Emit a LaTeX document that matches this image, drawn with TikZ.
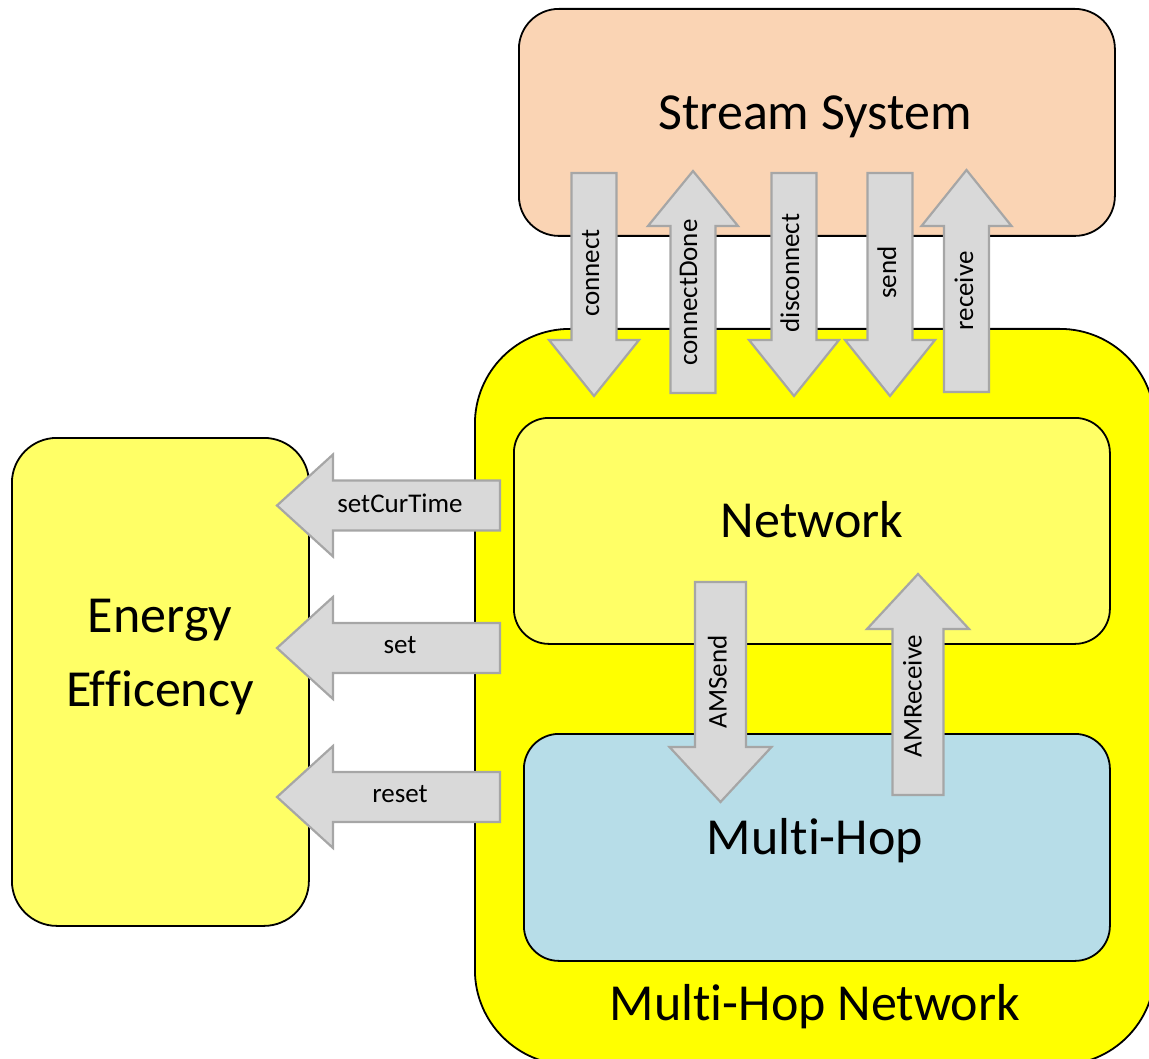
\documentclass[tikz,border=0pt]{standalone}
\usepackage{fontspec}
\setmainfont{Carlito}[Ligatures=NoCommon]
\usetikzlibrary{positioning,calc}

\definecolor{peach}{HTML}{FAD4B4}
\definecolor{brightyellow}{HTML}{FFFF00}
\definecolor{paleyellow}{HTML}{FFFF66}
\definecolor{paleblue}{HTML}{B7DDE8}
\definecolor{arrowfill}{HTML}{D9D9D9}
\definecolor{arrowline}{HTML}{A6A6A6}

% vertical block arrow: x, tail y, head base y, tip y, half shaft, half head
\newcommand{\vblock}[6]{%
  \draw[blk] (#1-#5,#2) -- (#1+#5,#2) -- (#1+#5,#3) -- (#1+#6,#3) -- (#1,#4)
    -- (#1-#6,#3) -- (#1-#5,#3) -- cycle;}
% horizontal block arrow: y, tail x, head base x, tip x, half shaft, half head
\newcommand{\hblock}[6]{%
  \draw[blk] (#2,#1-#5) -- (#2,#1+#5) -- (#3,#1+#5) -- (#3,#1+#6) -- (#4,#1)
    -- (#3,#1-#6) -- (#3,#1-#5) -- cycle;}

\begin{document}
\begin{tikzpicture}[x=1pt, y=-1pt,
    box/.style={draw, line width=1.8pt, anchor=north west, inner sep=0pt},
    big/.style={font=\fontsize{52}{74}\selectfont, align=center},
    blk/.style={fill=arrowfill, draw=arrowline, line width=2.2pt, line join=miter},
    lbl/.style={font=\fontsize{27}{32}\selectfont, inner sep=0pt, anchor=base},
    vlbl/.style={lbl, rotate=90}]
  \useasboundingbox (0,0) rectangle (1149,1059);
  \clip (0,0) rectangle (1149,1059);

  % boxes
  \node[box, fill=peach, rounded corners=40pt, minimum width=596pt,
        minimum height=227pt] (stream) at (518,8) {};
  \node[box, fill=brightyellow, rounded corners=95pt, minimum width=680pt,
        minimum height=736pt] (mhnet) at (474,328) {};
  \node[box, fill=paleyellow, rounded corners=45pt, minimum width=297pt,
        minimum height=488pt] (energy) at (11,437) {};
  \node[box, fill=paleyellow, rounded corners=35pt, minimum width=596pt,
        minimum height=226pt] (network) at (513,417) {};
  \node[box, fill=paleblue, rounded corners=35pt, minimum width=586pt,
        minimum height=227pt] (hop) at (523,733) {};

  \node[big, anchor=base] (streamtxt) at (815,130) {Stream System};
  \node[big, anchor=base] (networktxt) at (812,537) {Network};
  \node[big, anchor=base] (hoptxt) at (815,854) {Multi-Hop};
  \node[big, anchor=base] (mhnettxt) at (815,1020) {Multi-Hop Network};
  \node[big] (energytxt) at (160,657) {Energy\\Efficency};

  % stream system <-> network
  \vblock{594}{173}{340}{396}{22.5}{45}
  \vblock{693}{393}{226}{171}{22.5}{45}
  \vblock{794}{173}{340}{396}{22.5}{45}
  \vblock{890}{173}{340}{396}{22.5}{45}
  \vblock{966.5}{392}{226}{170}{22.5}{45}
  \node[vlbl] (connect) at (599,273) {connect};
  \node[vlbl] (connectdone) at (697,292.5) {connectDone};
  \node[vlbl] (disconnect) at (799,273) {disconnect};
  \node[vlbl] (send) at (896,272.5) {send};
  \node[vlbl] (receive) at (973,291) {receive};

  % network <-> multi-hop
  \vblock{720.5}{582}{747}{802}{25.5}{51}
  \vblock{918}{795}{629}{574}{25.5}{51}
  \node[vlbl] (amsend) at (726.5,682) {AMSend};
  \node[vlbl] (amreceive) at (921.5,696) {AMReceive};

  % multi-hop network -> energy efficency
  \hblock{505.5}{500}{333}{277}{25}{51}
  \hblock{648}{500}{333}{277}{25}{51}
  \hblock{797}{500}{333}{277}{25}{51}
  \node[lbl] (setcurtime) at (400,512) {setCurTime};
  \node[lbl] (set) at (400,653) {set};
  \node[lbl] (reset) at (400,802.5) {reset};
\end{tikzpicture}
\end{document}
